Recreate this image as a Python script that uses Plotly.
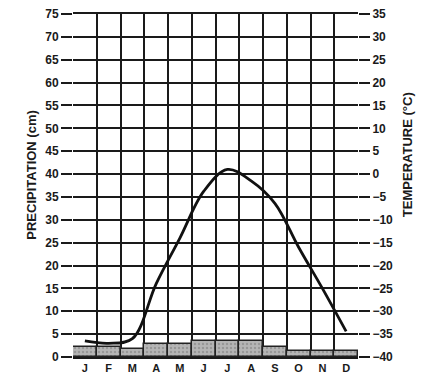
import plotly.graph_objects as go

months = ["J", "F", "M", "A", "M", "J", "J", "A", "S", "O", "N", "D"]
month_keys = ["Jan", "Feb", "Mar", "Apr", "May", "Jun", "Jul", "Aug", "Sep", "Oct", "Nov", "Dec"]
precip_cm = [2.2, 2.2, 1.8, 2.8, 2.8, 3.4, 3.4, 3.4, 2.2, 1.3, 1.3, 1.3]
temp_c = [-36.5, -37.0, -36.0, -24.0, -14.0, -3.8, 1.0, -1.5, -6.4, -16.0, -25.0, -34.4]

font_family = "Liberation Sans, Arial, sans-serif"
ink = "#1a1a1a"

fig = go.Figure()
fig.add_trace(go.Bar(
    x=month_keys, y=precip_cm,
    marker=dict(color="#b5b5b5", line=dict(color="#222", width=1.5),
                pattern=dict(shape=".", fgcolor="#777", size=4, solidity=0.3)),
    width=1.0, yaxis="y", showlegend=False,
))
fig.add_trace(go.Scatter(
    x=month_keys, y=temp_c, mode="lines",
    line=dict(color="#111", width=2.8, shape="spline", smoothing=1.0),
    yaxis="y2", showlegend=False,
))

axis_common = dict(
    showgrid=True, gridcolor=ink, gridwidth=2.4,
    ticks="outside", ticklen=11, tickwidth=2.4, tickcolor=ink,
    zeroline=False, dtick=5, automargin=False, ticklabeloverflow="allow",
    tickfont=dict(family=font_family, size=12, color=ink, weight="bold"),
)

title_font = dict(family=font_family, size=13, color=ink, weight="bold")

fig.update_layout(
    width=417, height=373,
    margin=dict(l=65, r=67, t=6, b=24),
    paper_bgcolor="white", plot_bgcolor="white",
    bargap=0,
    xaxis=dict(
        type="category", categoryorder="array", categoryarray=month_keys,
        tickvals=month_keys, ticktext=months, automargin=False,
        tickson="boundaries", showgrid=True, gridcolor=ink, gridwidth=2.4,
        ticks="", showline=True, linecolor=ink, linewidth=2.4, mirror=True,
        tickfont=dict(family=font_family, size=11, color=ink, weight="bold"),
        range=[-0.5, 11.5],
    ),
    yaxis=dict(range=[0, 75], tick0=0, **axis_common),
    yaxis2=dict(range=[-40, 35], tick0=-40, overlaying="y", side="right", **axis_common),
    annotations=[
        dict(text="PRECIPITATION (cm)", xref="paper", yref="paper", x=0, y=0.53,
             xshift=-51, textangle=-90, showarrow=False, font=title_font),
        dict(text="TEMPERATURE (°C)", xref="paper", yref="paper", x=1, y=0.59,
             xshift=59, textangle=-90, showarrow=False, font=title_font),
    ],
)

fig.write_html("out.html")
